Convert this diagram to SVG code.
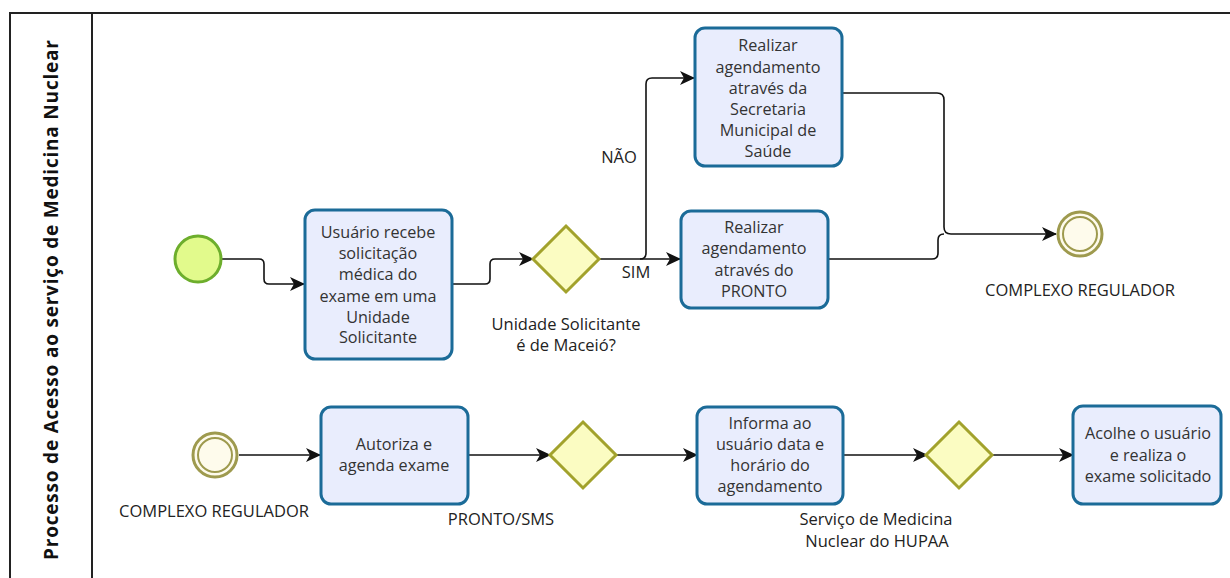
<svg xmlns="http://www.w3.org/2000/svg" width="1230" height="578" viewBox="0 0 1230 578">
<defs>
<marker id="arr" markerUnits="userSpaceOnUse" markerWidth="16" markerHeight="14" refX="14" refY="7" orient="auto">
<path d="M0,0 L15,7 L0,14 L4,7 z" fill="#111"/>
</marker>
<style>
.task{fill:#e9edfd;stroke:#1b6b98;stroke-width:3}
.gw{fill:#fbfcc2;stroke:#a2a22c;stroke-width:3}
.end{fill:#fefbec;stroke:#9e9a4e;stroke-width:3}
.t{font-family:"Open Sans","Liberation Sans",sans-serif;font-size:16.2px;fill:#333;text-anchor:middle}
.lbl{font-family:"Open Sans","Liberation Sans",sans-serif;font-size:16.5px;fill:#222;text-anchor:middle}
.c{fill:none;stroke:#111;stroke-width:1.6}
</style>
</defs>
<rect width="1230" height="578" fill="#fff"/>
<g id="pool">
<path d="M1232,13 H10 V580" fill="none" stroke="#222" stroke-width="2"/>
<line x1="92" y1="13" x2="92" y2="580" stroke="#222" stroke-width="2"/>
<text transform="translate(58,300) rotate(-90)" text-anchor="middle" font-family="'Open Sans','Liberation Sans',sans-serif" font-size="19" font-weight="bold" fill="#111" textLength="520" lengthAdjust="spacing">Processo de Acesso ao serviço de Medicina Nuclear</text>
</g>
<g id="connectors">
<path class="c" d="M222,259 H259 Q264,259 264,264 V279 Q264,284 269,284 H304" marker-end="url(#arr)"/>
<path class="c" d="M453,284 H485 Q490,284 490,279 V264 Q490,259 495,259 H533" marker-end="url(#arr)"/>
<path class="c" d="M599,259 H680" marker-end="url(#arr)"/>
<path class="c" d="M640,259 Q646,259 646,253 V84 Q646,78 652,78 H694" marker-end="url(#arr)"/>
<path class="c" d="M842,93 H937 Q944,93 944,100 V227 Q944,234 951,234 H1056" marker-end="url(#arr)"/>
<path class="c" d="M828,259 H932 Q938,259 938,253 V240 Q938,234 944,234"/>
<path class="c" d="M239,455 H320" marker-end="url(#arr)"/>
<path class="c" d="M468,455 H550" marker-end="url(#arr)"/>
<path class="c" d="M616,455 H697" marker-end="url(#arr)"/>
<path class="c" d="M843,455 H927" marker-end="url(#arr)"/>
<path class="c" d="M992,455 H1073" marker-end="url(#arr)"/>
<text class="lbl" x="619" y="163">NÃO</text>
<text class="lbl" x="636" y="278">SIM</text>
</g>
<g id="start1">
<circle cx="198" cy="259" r="23" fill="#e2fa8c" stroke="#6dae2c" stroke-width="3"/>
</g>
<g id="task1">
<rect class="task" x="305" y="210" width="147" height="149" rx="10"/>
<text class="t" x="378" y="238">Usuário recebe</text>
<text class="t" x="378" y="259">solicitação</text>
<text class="t" x="378" y="280">médica do</text>
<text class="t" x="378" y="302">exame em uma</text>
<text class="t" x="378" y="323">Unidade</text>
<text class="t" x="378" y="343">Solicitante</text>
</g>
<g id="gw1">
<path class="gw" d="M566,226 L599,259 L566,292 L533,259 z"/>
<text class="lbl" x="566" y="330">Unidade Solicitante</text>
<text class="lbl" x="566" y="351">é de Maceió?</text>
</g>
<g id="task2">
<rect class="task" x="695" y="28" width="147" height="138" rx="10"/>
<text class="t" x="768" y="51">Realizar</text>
<text class="t" x="768" y="73">agendamento</text>
<text class="t" x="768" y="94">através da</text>
<text class="t" x="768" y="115">Secretaria</text>
<text class="t" x="768" y="136">Municipal de</text>
<text class="t" x="768" y="157">Saúde</text>
</g>
<g id="task3">
<rect class="task" x="681" y="211" width="147" height="97" rx="10"/>
<text class="t" x="754" y="233">Realizar</text>
<text class="t" x="754" y="254">agendamento</text>
<text class="t" x="754" y="276">através do</text>
<text class="t" x="754" y="297">PRONTO</text>
</g>
<g id="end1">
<circle class="end" cx="1080" cy="234" r="22"/>
<circle cx="1080" cy="234" r="17" fill="none" stroke="#9e9a4e" stroke-width="2"/>
<text class="lbl" x="1080" y="296">COMPLEXO REGULADOR</text>
</g>
<g id="start2">
<circle class="end" cx="215" cy="455" r="22"/>
<circle cx="215" cy="455" r="17" fill="none" stroke="#9e9a4e" stroke-width="2"/>
<text class="lbl" x="214" y="517">COMPLEXO REGULADOR</text>
</g>
<g id="task4">
<rect class="task" x="321" y="407" width="147" height="97" rx="10"/>
<text class="t" x="394" y="450">Autoriza e</text>
<text class="t" x="394" y="471">agenda exame</text>
</g>
<g id="gw2">
<path class="gw" d="M583,422 L616,455 L583,488 L550,455 z"/>
<text class="lbl" x="501" y="525">PRONTO/SMS</text>
</g>
<g id="task5">
<rect class="task" x="697" y="407" width="146" height="97" rx="10"/>
<text class="t" x="770" y="429">Informa ao</text>
<text class="t" x="770" y="450">usuário data e</text>
<text class="t" x="770" y="471">horário do</text>
<text class="t" x="770" y="492">agendamento</text>
</g>
<g id="gw3">
<path class="gw" d="M959,422 L992,455 L959,488 L926,455 z"/>
<text class="lbl" x="876" y="525">Serviço de Medicina</text>
<text class="lbl" x="877" y="547">Nuclear do HUPAA</text>
</g>
<g id="task6">
<rect class="task" x="1073" y="406" width="148" height="98" rx="10"/>
<text class="t" x="1148" y="439">Acolhe o usuário</text>
<text class="t" x="1148" y="461">e realiza o</text>
<text class="t" x="1148" y="482">exame solicitado</text>
</g>
</svg>
